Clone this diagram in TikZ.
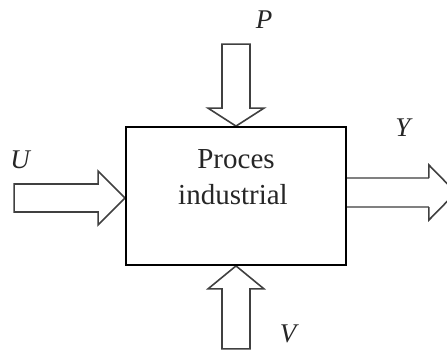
\documentclass[tikz,border=0pt]{standalone}
\usepackage{fontspec}
\setmainfont{Liberation Serif}
\usetikzlibrary{calc}
\begin{document}
\begin{tikzpicture}[x=1pt,y=-1pt,
  blockarrow/.style={draw=black!75,line width=1.6pt,fill=white,line join=miter},
  shaftline/.style={draw=black!50,line width=2.6pt},
  procbox/.style={draw=black,line width=1.8pt,minimum width=220pt,minimum height=138pt,inner sep=0pt},
  boxtext/.style={font=\fontsize{29}{30}\selectfont,text=black!85,inner sep=0pt},
  varlabel/.style={font=\fontsize{27}{28}\selectfont\itshape,text=black!85,inner sep=0pt}]
\useasboundingbox (0,0) rectangle (447,349);
\node[procbox] (proc) at (236,196) {};
% P arrow (top, pointing down)
\draw[blockarrow] (proc.north) -- ++(28,-18) -- ++(-14,0) -- ++(0,-64) -- ++(-28,0) -- ++(0,64) -- ++(-14,0) -- cycle;
% V arrow (bottom, pointing up)
\draw[blockarrow] (proc.south) -- ++(28,23) -- ++(-14,0) -- ++(0,60) -- ++(-28,0) -- ++(0,-60) -- ++(-14,0) -- cycle;
% U arrow (left, pointing right)
\coordinate (utip) at ($(proc.west)+(0,2)$);
\draw[blockarrow] (utip) -- ++(-27,27) -- ++(0,-13) -- ++(-84,0) -- ++(0,-28) -- ++(84,0) -- ++(0,-13) -- cycle;
% Y arrow (right, outgoing)
\coordinate (ya) at ($(proc.east)+(0,-18)$);
\coordinate (yb) at ($(proc.east)+(0,11)$);
\coordinate (yha) at ($(ya)+(82,0)$);
\coordinate (yhb) at ($(yb)+(82,0)$);
\draw[shaftline] (ya) -- (yha);
\draw[shaftline] (yb) -- (yhb);
\draw[blockarrow,fill=none] (yha) -- ++(0,-13) -- ++(27,27.5) -- ++(-27,27.5) -- (yhb);
\node[procbox] at (proc) {};
\node[boxtext,anchor=base] (t1) at (236,168) {Proces};
\node[boxtext,anchor=base] (t2) at (233,204) {industrial};
\node[varlabel] (lp) at (264,20) {P};
\node[varlabel] (lu) at (20,160) {U};
\node[varlabel] (ly) at (403,128) {Y};
\node[varlabel] (lv) at (288,334) {V};
\end{tikzpicture}
\end{document}
